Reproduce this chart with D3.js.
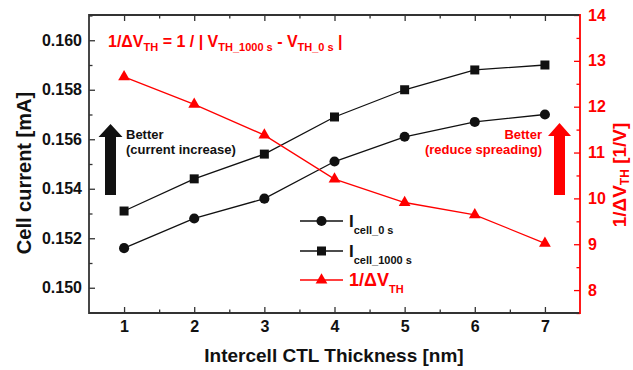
<!DOCTYPE html>
<html>
<head>
<meta charset="utf-8">
<script src="https://cdn.jsdelivr.net/npm/d3@7/dist/d3.min.js"></script>
<style>
  html, body { margin: 0; padding: 0; background: #fff; }
  svg { display: block; font-family: "Liberation Sans", Arial, sans-serif; }
</style>
</head>
<body>
<svg id="chart" width="633" height="370"></svg>
<script>
// Intercell CTL thickness sweep
const thickness = [1, 2, 3, 4, 5, 6, 7];
const icell0 = [0.1516, 0.1528, 0.1536, 0.1551, 0.1561, 0.1567, 0.1570];
const icell1000 = [0.1531, 0.1544, 0.1554, 0.1569, 0.1580, 0.1588, 0.1590];
const invDeltaVth = [12.65, 12.05, 11.38, 10.42, 9.91, 9.64, 9.02];

const xTicks = [1, 2, 3, 4, 5, 6, 7];
const xMinor = [1.5, 2.5, 3.5, 4.5, 5.5, 6.5];
const yLeftTicks = [0.150, 0.152, 0.154, 0.156, 0.158, 0.160];
const yLeftMinor = [0.149, 0.151, 0.153, 0.155, 0.157, 0.159, 0.161];
const yRightTicks = [8, 9, 10, 11, 12, 13, 14];
const yRightMinor = [7.5, 8.5, 9.5, 10.5, 11.5, 12.5, 13.5];

const RED = "#ff0000";
const INK = "#111";
const AXIS = "#333";

const svg = d3.select("#chart");
const plotL = 89, plotR = 580, plotT = 15, plotB = 313;

const x = d3.scaleLinear().domain([0.5, 7.5]).range([plotL, plotR]);
const yL = d3.scaleLinear().domain([0.149, 0.161]).range([312.5, 15.5]);
const yR = d3.scaleLinear().domain([7.5, 14]).range([plotB, plotT]);

const tickFont = g => g.selectAll("text")
  .attr("font-size", 16).attr("font-weight", "bold")
  .attr("font-family", "'Liberation Sans', Arial, sans-serif");

// bottom axis
svg.append("g").attr("transform", `translate(0,${plotB})`)
  .call(d3.axisBottom(x).tickValues(xTicks).tickFormat(d3.format("d"))
    .tickSizeInner(-6).tickSizeOuter(0).tickPadding(8))
  .call(g => g.select(".domain").remove())
  .call(g => g.selectAll("line").attr("stroke", AXIS).attr("stroke-width", 1.3))
  .call(tickFont).call(g => g.selectAll("text").attr("fill", INK));
svg.append("g").attr("transform", `translate(0,${plotB})`)
  .call(d3.axisBottom(x).tickValues(xMinor).tickFormat("").tickSizeInner(-3.5).tickSizeOuter(0))
  .call(g => g.select(".domain").remove())
  .call(g => g.selectAll("line").attr("stroke", AXIS).attr("stroke-width", 1.3));

// top axis (ticks only)
svg.append("g").attr("transform", `translate(0,${plotT})`)
  .call(d3.axisTop(x).tickValues(xTicks).tickFormat("").tickSizeInner(-6).tickSizeOuter(0))
  .call(g => g.select(".domain").remove())
  .call(g => g.selectAll("line").attr("stroke", AXIS).attr("stroke-width", 1.3));
svg.append("g").attr("transform", `translate(0,${plotT})`)
  .call(d3.axisTop(x).tickValues(xMinor).tickFormat("").tickSizeInner(-3.5).tickSizeOuter(0))
  .call(g => g.select(".domain").remove())
  .call(g => g.selectAll("line").attr("stroke", AXIS).attr("stroke-width", 1.3));

// left axis
svg.append("g").attr("transform", `translate(${plotL},0)`)
  .call(d3.axisLeft(yL).tickValues(yLeftTicks).tickFormat(d3.format(".3f"))
    .tickSizeInner(-6).tickSizeOuter(0).tickPadding(7))
  .call(g => g.select(".domain").remove())
  .call(g => g.selectAll("line").attr("stroke", AXIS).attr("stroke-width", 1.3))
  .call(tickFont).call(g => g.selectAll("text").attr("fill", INK));
svg.append("g").attr("transform", `translate(${plotL},0)`)
  .call(d3.axisLeft(yL).tickValues(yLeftMinor).tickFormat("").tickSizeInner(-3.5).tickSizeOuter(0))
  .call(g => g.select(".domain").remove())
  .call(g => g.selectAll("line").attr("stroke", AXIS).attr("stroke-width", 1.3));

// right axis (red)
svg.append("g").attr("transform", `translate(${plotR},0)`)
  .call(d3.axisRight(yR).tickValues(yRightTicks).tickFormat(d3.format("d"))
    .tickSizeInner(-6).tickSizeOuter(0).tickPadding(8))
  .call(g => g.select(".domain").remove())
  .call(g => g.selectAll("line").attr("stroke", RED).attr("stroke-width", 1.3))
  .call(tickFont).call(g => g.selectAll("text").attr("fill", RED));
svg.append("g").attr("transform", `translate(${plotR},0)`)
  .call(d3.axisRight(yR).tickValues(yRightMinor).tickFormat("").tickSizeInner(-3.5).tickSizeOuter(0))
  .call(g => g.select(".domain").remove())
  .call(g => g.selectAll("line").attr("stroke", RED).attr("stroke-width", 1.3));

// frame
const frame = svg.append("g").attr("fill", "none").attr("stroke-width", 1.8);
frame.append("path").attr("stroke", AXIS)
  .attr("d", `M${plotR},${plotT}H${plotL}V${plotB}H${plotR}`);
frame.append("path").attr("stroke", RED)
  .attr("d", `M${plotR},${plotT - 0.9}V${plotB + 0.9}`);

// series
const lineL = vals => d3.line().x((d, i) => x(thickness[i])).y(d => yL(d))(vals);
const lineR = vals => d3.line().x((d, i) => x(thickness[i])).y(d => yR(d))(vals);

const plot = svg.append("g");
plot.append("path").attr("d", lineL(icell0)).attr("fill", "none").attr("stroke", INK).attr("stroke-width", 1.3);
plot.append("path").attr("d", lineL(icell1000)).attr("fill", "none").attr("stroke", INK).attr("stroke-width", 1.3);
plot.append("path").attr("d", lineR(invDeltaVth)).attr("fill", "none").attr("stroke", RED).attr("stroke-width", 1.3);

const circ = d3.symbol().type(d3.symbolCircle).size(80)();
const sq = d3.symbol().type(d3.symbolSquare).size(81)();
const tri = d3.symbol().type(d3.symbolTriangle).size(60)();

plot.selectAll(".c0").data(icell0).join("path")
  .attr("d", circ).attr("fill", INK)
  .attr("transform", (d, i) => `translate(${x(thickness[i])},${yL(d)})`);
plot.selectAll(".c1").data(icell1000).join("path")
  .attr("d", sq).attr("fill", INK)
  .attr("transform", (d, i) => `translate(${x(thickness[i])},${yL(d)})`);
plot.selectAll(".c2").data(invDeltaVth).join("path")
  .attr("d", tri).attr("fill", RED)
  .attr("transform", (d, i) => `translate(${x(thickness[i])},${yR(d)})`);

// axis titles
svg.append("text").attr("x", 334).attr("y", 362).attr("text-anchor", "middle")
  .attr("font-size", 19).attr("font-weight", "bold").attr("fill", INK)
  .text("Intercell CTL Thickness [nm]");
svg.append("text").attr("transform", "translate(31,173) rotate(-90)").attr("text-anchor", "middle")
  .attr("font-size", 20).attr("font-weight", "bold").attr("fill", INK)
  .text("Cell current [mA]");
const rt = svg.append("text").attr("transform", "translate(626,175) rotate(-90)").attr("text-anchor", "middle")
  .attr("font-size", 19).attr("font-weight", "bold").attr("fill", RED);
rt.append("tspan").text("1/ΔV");
rt.append("tspan").attr("font-size", 12).attr("dy", 3).text("TH");
rt.append("tspan").attr("dy", -3).text(" [1/V]");

// equation
const eq = svg.append("text").attr("x", 108).attr("y", 47)
  .attr("font-size", 16).attr("font-weight", "bold").attr("fill", RED);
eq.append("tspan").text("1/ΔV");
eq.append("tspan").attr("font-size", 11).attr("dy", 4).text("TH");
eq.append("tspan").attr("dy", -4).text(" = 1 / | V");
eq.append("tspan").attr("font-size", 11).attr("dy", 4).text("TH_1000 s");
eq.append("tspan").attr("dy", -4).text(" - V");
eq.append("tspan").attr("font-size", 11).attr("dy", 4).text("TH_0 s");
eq.append("tspan").attr("dy", -4).text(" |");

// "Better" arrows
const arrow = (cx, tipY, baseY, headW, shaftW, color) => {
  const hw = headW / 2, sw = shaftW / 2, headBase = tipY + 13;
  svg.append("path").attr("fill", color)
    .attr("d", `M${cx},${tipY}L${cx + hw},${headBase}L${cx + sw},${headBase}L${cx + sw},${baseY}` +
      `L${cx - sw},${baseY}L${cx - sw},${headBase}L${cx - hw},${headBase}Z`);
};
arrow(110.5, 124, 195, 24, 11, INK);
arrow(559.5, 123, 195, 23, 11, RED);

svg.append("text").attr("x", 126).attr("y", 139).attr("font-size", 13).attr("font-weight", "bold")
  .attr("fill", INK).text("Better");
svg.append("text").attr("x", 126).attr("y", 154).attr("font-size", 13).attr("font-weight", "bold")
  .attr("fill", INK).text("(current increase)");
svg.append("text").attr("x", 542).attr("y", 139).attr("font-size", 13).attr("font-weight", "bold")
  .attr("text-anchor", "end").attr("fill", RED).text("Better");
svg.append("text").attr("x", 542).attr("y", 154).attr("font-size", 13).attr("font-weight", "bold")
  .attr("text-anchor", "end").attr("fill", RED).text("(reduce spreading)");

// legend
const legend = svg.append("g");
const legRows = [
  { y: 221, color: INK, sym: circ, main: "I", sub: "cell_0 s", size: 17 },
  { y: 251, color: INK, sym: sq, main: "I", sub: "cell_1000 s", size: 17 },
  { y: 280, color: RED, sym: tri, main: "1/ΔV", sub: "TH", size: 18 }
];
legRows.forEach(r => {
  legend.append("line").attr("x1", 300).attr("x2", 343).attr("y1", r.y).attr("y2", r.y)
    .attr("stroke", r.color).attr("stroke-width", 1.3);
  legend.append("path").attr("d", r.sym).attr("fill", r.color)
    .attr("transform", `translate(321.5,${r.y})`);
  const t = legend.append("text").attr("x", 349).attr("y", r.y + 6)
    .attr("font-size", r.size).attr("font-weight", "bold").attr("fill", r.color);
  t.append("tspan").text(r.main);
  t.append("tspan").attr("font-size", 11).attr("dy", 7).text(r.sub);
});
</script>
</body>
</html>
